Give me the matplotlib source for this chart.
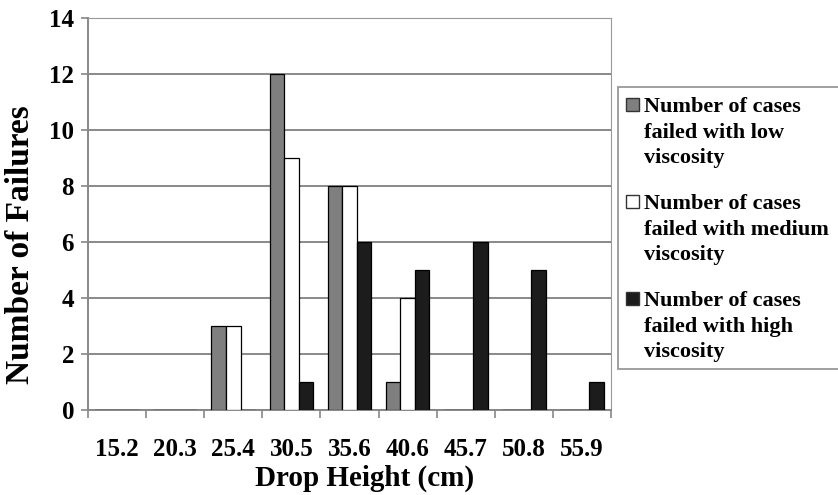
import numpy as np
import matplotlib.pyplot as plt
from matplotlib.patches import Rectangle

heights = ['15.2', '20.3', '25.4', '30.5', '35.6', '40.6', '45.7', '50.8', '55.9']
low_visc = [0, 0, 3, 12, 8, 1, 0, 0, 0]
med_visc = [0, 0, 3, 9, 8, 4, 0, 0, 0]
high_visc = [0, 0, 0, 1, 6, 5, 6, 5, 1]
series_names = ['Number of cases\nfailed with low\nviscosity',
                'Number of cases\nfailed with medium\nviscosity',
                'Number of cases\nfailed with high\nviscosity']
series_colors = ['#7f7f7f', 'white', '#1c1c1c']

plt.rcParams['font.family'] = 'Liberation Serif'
plt.rcParams['font.weight'] = 'bold'

W, H = 838, 495
fig = plt.figure(figsize=(W / 100, H / 100), dpi=100)
ax = fig.add_axes([88 / W, (H - 410) / H, 523 / W, 392 / H])

x = np.arange(len(heights))
w = 0.25
for k, vals in enumerate([low_visc, med_visc, high_visc]):
    ax.bar(x + (k - 1) * w, vals, w, color=series_colors[k], edgecolor='black',
           linewidth=0.9, zorder=3)

ax.set_xlim(-0.5, len(heights) - 0.5)
ax.set_ylim(0, 14)
ax.set_yticks(range(0, 15, 2))
ax.yaxis.grid(True, color='#808080', linewidth=1.3, zorder=0)

# ticks on category boundaries, labels in the middle
ax.set_xticks(np.arange(-0.5, len(heights), 1.0))
ax.set_xticklabels([])
ax.set_xticks(x, minor=True)
ax.set_xticklabels(heights, minor=True)
ax.tick_params(axis='x', which='major', direction='out', length=6, width=1.2, color='#888888')
ax.tick_params(axis='x', which='minor', length=0, pad=20, labelsize=18)
ax.tick_params(axis='y', direction='out', length=5, width=1.2, color='#888888',
               labelsize=18, pad=5)

for side in ['top', 'right']:
    ax.spines[side].set_color('#999999')
for side in ['left', 'bottom']:
    ax.spines[side].set_color('#888888')
    ax.spines[side].set_linewidth(1.4)

ax.set_xlabel('Drop Height (cm)', fontsize=21, fontweight='bold')
ax.xaxis.set_label_coords((365 - 88) / 523, (410 - 465) / 392)
ax.set_ylabel('Number of Failures', fontsize=24, fontweight='bold')
ax.yaxis.set_label_coords((36 - 88) / 523, 0.423)

# legend box drawn by hand so each swatch sits beside the first text line
fig.patches.append(Rectangle((618 / W, (H - 369) / H), 230 / W, 282 / H,
                             transform=fig.transFigure, facecolor='white',
                             edgecolor='#999999', linewidth=1.3))
for k, name in enumerate(series_names):
    top = 98 + k * 97
    fig.patches.append(Rectangle((626 / W, (H - top - 13) / H), 13 / W, 13 / H,
                                 transform=fig.transFigure,
                                 facecolor=series_colors[k], edgecolor='#333333',
                                 linewidth=1.0))
    fig.text(644 / W, (H - top + 1) / H, name, fontsize=16, fontweight='bold',
             va='top', ha='left', linespacing=1.38)

fig.savefig('out.png', dpi=100)
